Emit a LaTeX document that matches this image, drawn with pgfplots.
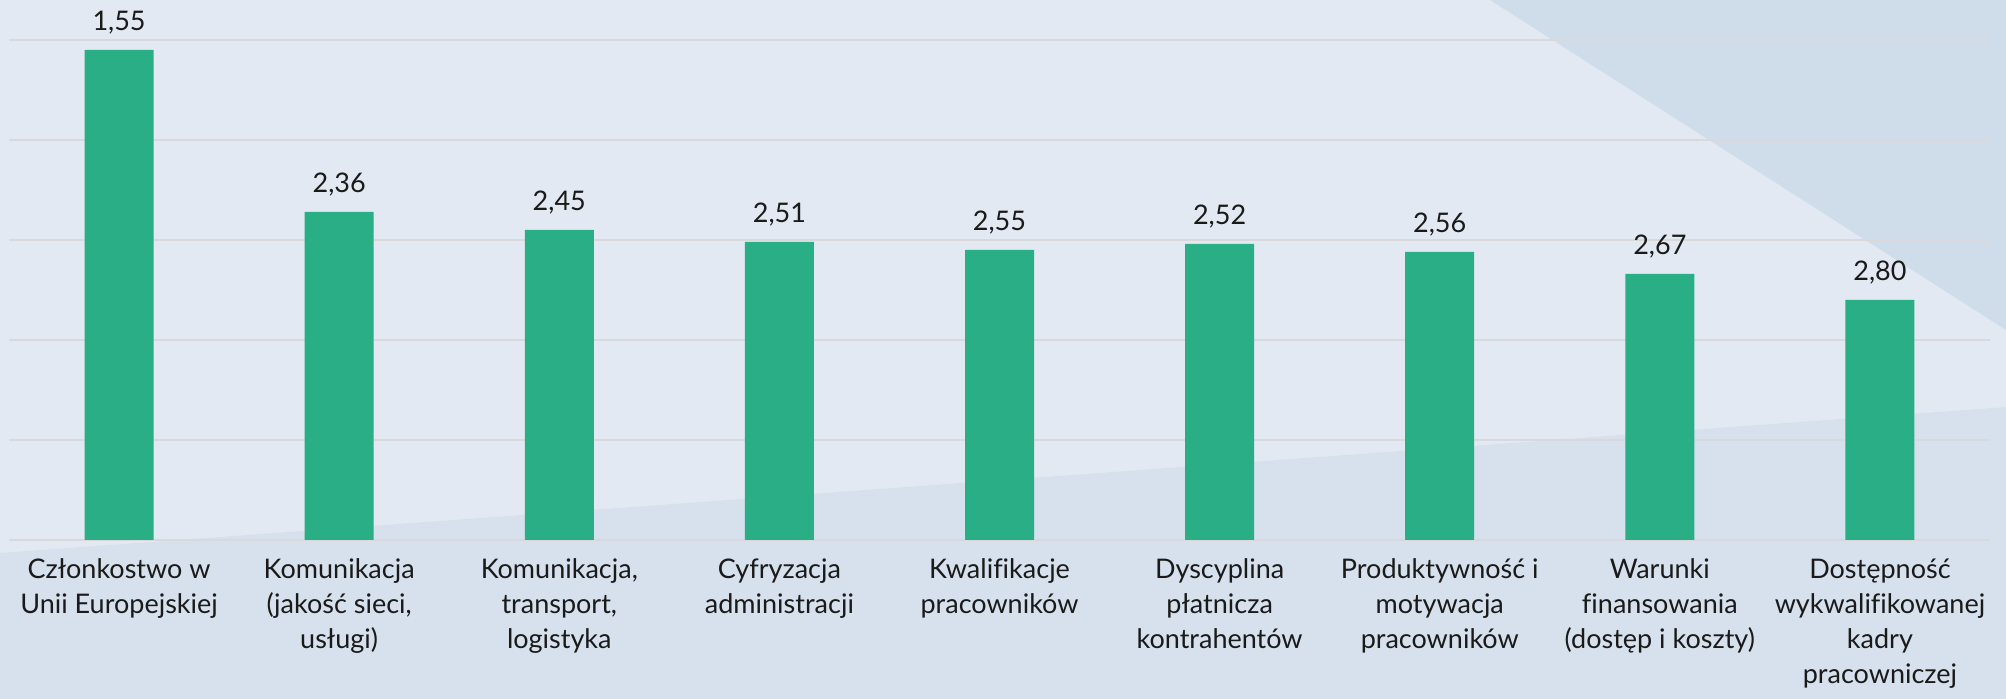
\documentclass[border=0pt]{standalone}
\usepackage{fontspec}
\setmainfont{Lato}[Ligatures=NoCommon]
\usepackage{pgfplots}
\usepackage{pgfplotstable}
\pgfplotsset{compat=1.18}
\definecolor{bgbase}{HTML}{E3E9F3}
\definecolor{bgdark}{HTML}{CFDCEA}
\definecolor{bgbottom}{HTML}{D6E1ED}
\definecolor{barcol}{HTML}{2AAE86}
\definecolor{gridcol}{HTML}{D9D9DC}
\definecolor{txt}{HTML}{1A1A1A}

% values as published (lower = better, bars drawn down from 4)
\pgfplotstableread{
x v
0 1.55
1 2.36
2 2.45
3 2.51
4 2.55
5 2.52
6 2.56
7 2.67
8 2.80
}\scores

\begin{document}
\begin{tikzpicture}
% background panels
\fill[bgbase] (-4.5pt,-79.5pt) rectangle (998.5pt,270pt);
\fill[bgbottom] (-4.5pt,-6.5pt) -- (998.5pt,66.5pt) -- (998.5pt,-79.5pt) -- (-4.5pt,-79.5pt) -- cycle;
\fill[bgdark] (740.5pt,270pt) -- (998.5pt,270pt) -- (998.5pt,105pt) -- cycle;
\useasboundingbox (-4.5pt,-79.5pt) rectangle (998.5pt,270pt);
\begin{axis}[
  scale only axis,
  width=990.5pt, height=250pt,
  xmin=-0.5, xmax=8.5,
  ymin=0, ymax=2.5,
  ybar, bar width=34.5pt,
  xtick={0,...,8},
  xticklabels={
    {Członkostwo w\\Unii Europejskiej},
    {Komunikacja\\(jakość sieci,\\usługi)},
    {Komunikacja,\\transport,\\logistyka},
    {Cyfryzacja\\administracji},
    {Kwalifikacje\\pracowników},
    {Dyscyplina\\płatnicza\\kontrahentów},
    {Produktywność i\\motywacja\\pracowników},
    {Warunki\\finansowania\\(dostęp i koszty)},
    {Dostępność\\wykwalifikowanej\\kadry\\pracowniczej}},
  xticklabel style={font=\fontsize{13.5}{17.5}\selectfont, align=center, text=txt, yshift=-6pt},
  ytick={0,0.5,...,2.5},
  yticklabels={},
  major tick length=0pt,
  axis line style={draw=none},
  ymajorgrids,
  grid style={gridcol, line width=1pt},
  nodes near coords={\pgfmathprintnumber[use comma, fixed, fixed zerofill, precision=2, assume math mode=true]{\pgfplotspointmeta}},
  nodes near coords style={font=\fontsize{13.5}{16}\selectfont, text=txt, anchor=base, yshift=9.5pt},
  point meta=explicit,
]
\addplot[fill=barcol, draw=none] table[x=x, y expr=4-\thisrow{v}, meta=v] {\scores};
\end{axis}
\end{tikzpicture}
\end{document}
